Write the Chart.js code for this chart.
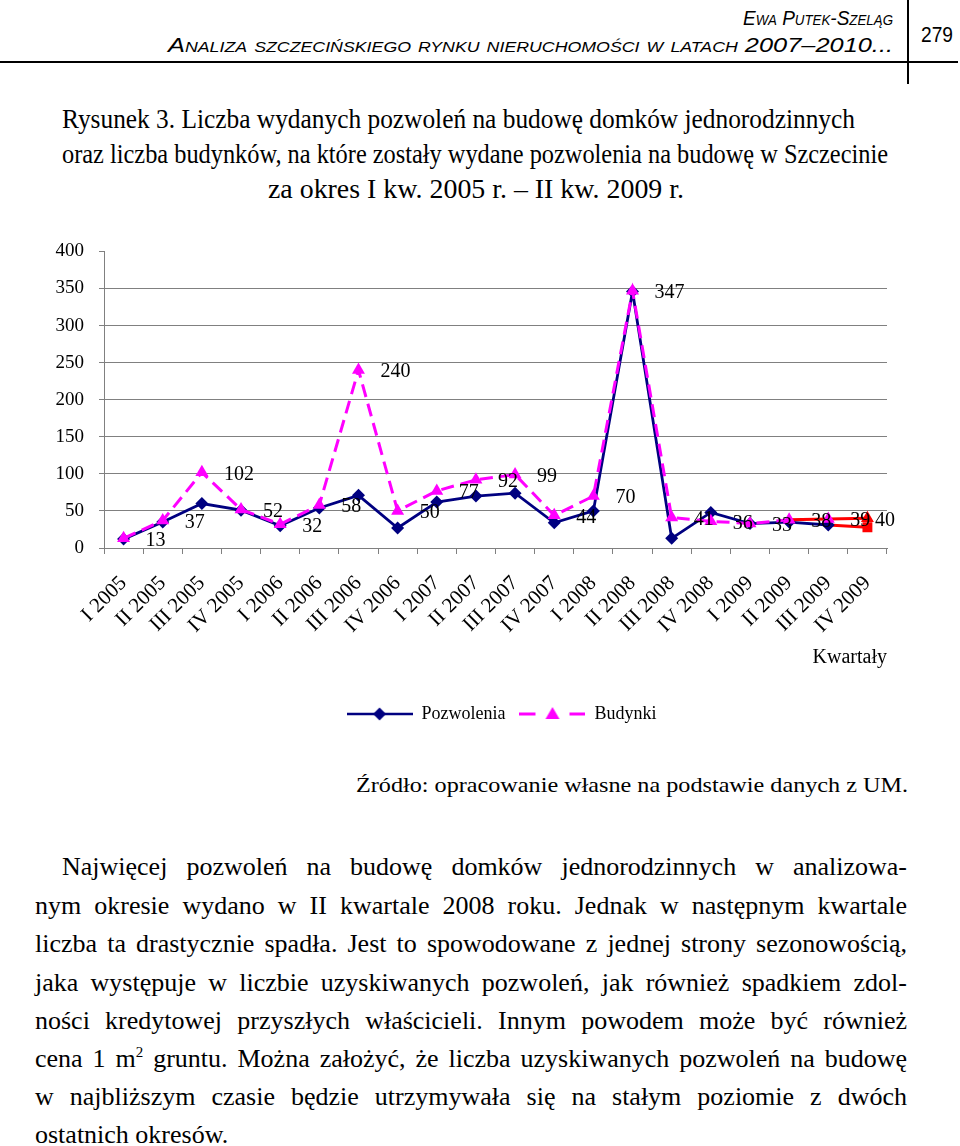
<!DOCTYPE html>
<html><head><meta charset="utf-8">
<script src="https://cdn.jsdelivr.net/npm/chart.js@4.4.0/dist/chart.umd.min.js"></script>
<style>
html,body{margin:0;padding:0;background:#fff;}
body{width:960px;height:1146px;position:relative;overflow:hidden;font-family:"Liberation Serif","Times New Roman",serif;color:#000;}
.t{position:absolute;white-space:nowrap;line-height:1;display:inline-block;}
.hdr{font-family:"Liberation Sans Narrow","Liberation Sans",Arial,sans-serif;font-style:italic;font-variant:small-caps;}
.rule{position:absolute;background:#000;}
#wrap{position:absolute;left:0;top:225px;width:960px;height:505px;}
sup{font-size:15px;vertical-align:10px;line-height:0;}
</style></head><body>
<div class="rule" style="left:907px;top:0;width:1.5px;height:84px"></div>
<div class="rule" style="left:0;top:61px;width:958px;height:2px"></div>
<div id="h1" class="t hdr" style="font-size:20px">Ewa Putek-Szeląg</div>
<div id="h2" class="t hdr" style="font-size:20px">Analiza szczecińskiego rynku nieruchomości w latach 2007–2010...</div>
<div id="pg" class="t" style="font-family:'Liberation Sans Narrow','Liberation Sans',Arial,sans-serif;font-size:22px">279</div>

<div id="c1" class="t" style="font-size:28px">Rysunek 3. Liczba wydanych pozwoleń na budowę domków jednorodzinnych</div>
<div id="c2" class="t" style="font-size:28px">oraz liczba budynków, na które zostały wydane pozwolenia na budowę w Szczecinie</div>
<div id="c3" class="t" style="font-size:28px">za okres I kw. 2005 r. – II kw. 2009 r.</div>

<div id="wrap"><canvas id="chart" width="960" height="505"></canvas></div>

<div id="src" class="t" style="font-size:21px">Źródło: opracowanie własne na podstawie danych z UM.</div>

<div id="p1" class="t" style="font-size:26px">Najwięcej pozwoleń na budowę domków jednorodzinnych w analizowa-</div>
<div id="p2" class="t" style="font-size:26px">nym okresie wydano w II kwartale 2008 roku. Jednak w następnym kwartale</div>
<div id="p3" class="t" style="font-size:26px">liczba ta drastycznie spadła. Jest to spowodowane z jednej strony sezonowością,</div>
<div id="p4" class="t" style="font-size:26px">jaka występuje w liczbie uzyskiwanych pozwoleń, jak również spadkiem zdol-</div>
<div id="p5" class="t" style="font-size:26px">ności kredytowej przyszłych właścicieli. Innym powodem może być również</div>
<div id="p6" class="t" style="font-size:26px">cena 1 m<sup>2</sup> gruntu. Można założyć, że liczba uzyskiwanych pozwoleń na budowę</div>
<div id="p7" class="t" style="font-size:26px">w najbliższym czasie będzie utrzymywała się na stałym poziomie z dwóch</div>
<div id="p8" class="t" style="font-size:26px">ostatnich okresów.</div>

<script>
// ---- data ----
const kwartaly = ['I 2005','II 2005','III 2005','IV 2005','I 2006','II 2006','III 2006','IV 2006',
  'I 2007','II 2007','III 2007','IV 2007','I 2008','II 2008','III 2008','IV 2008',
  'I 2009','II 2009','III 2009','IV 2009'];
const pozwolenia = [12,35,60,51,30,54,71,27,62,70,74,34,50,346,13,48,33,35,31,28];
const budynki = [13,37,102,52,32,58,240,50,77,92,99,44,70,347,41,36,33,38,39,40];
const osY = [0,50,100,150,200,250,300,350,400];
const seriaNazwy = ['Pozwolenia','Budynki'];
const osXTytul = 'Kwartały';

// ---- page text layout ----
function place(id, x0, x1, cy, mode){
  const el = document.getElementById(id);
  const fs = parseFloat(getComputedStyle(el).fontSize);
  el.style.left = x0 + 'px';
  el.style.top = (cy - fs*0.52) + 'px';
  const w = el.getBoundingClientRect().width;
  el.style.transformOrigin = 'left center';
  if (mode === 'justify') {
    const n = (el.textContent.match(/ /g) || []).length;
    const extra = x1 - x0 - w;
    if (extra >= 0) { if (n) el.style.wordSpacing = (extra / n) + 'px'; }
    else el.style.transform = 'scaleX(' + ((x1 - x0) / w) + ')';
  } else if (mode === 'scale') {
    el.style.transform = 'scaleX(' + ((x1 - x0) / w) + ')';
  }
}
place('h1', 743, 893, 18, 'scale');
place('h2', 168, 893, 45, 'scale');
place('pg', 921, 953, 35, 'scale');
place('c1', 62, 855, 120, 'scale');
place('c2', 62, 888, 155, 'scale');
place('c3', 268, 684, 190, 'scale');
place('src', 356, 908, 786, 'scale');
place('p1', 62, 907, 868, 'justify');
place('p2', 35, 907, 907, 'justify');
place('p3', 35, 907, 945, 'justify');
place('p4', 35, 907, 984, 'justify');
place('p5', 35, 907, 1022, 'justify');
place('p6', 35, 907, 1060, 'justify');
place('p7', 35, 907, 1098, 'justify');
place('p8', 35, 300, 1136, 'none');

// ---- chart ----
const NAVY = '#000080', MAG = '#FF00FF', RED = '#FF0000', GRID = '#808080';
const last = kwartaly.length - 1;
const FONT = "'Liberation Serif','Times New Roman',serif";

function legendImg(kind){
  const c = document.createElement('canvas');
  c.width = 66; c.height = 18;
  const g = c.getContext('2d');
  const cy = 9;
  if (kind === 0) {
    g.strokeStyle = NAVY; g.lineWidth = 2.5;
    g.beginPath(); g.moveTo(0,cy); g.lineTo(66,cy); g.stroke();
    g.fillStyle = NAVY;
    g.beginPath(); g.moveTo(33,cy-6.5); g.lineTo(39.5,cy); g.lineTo(33,cy+6.5); g.lineTo(26.5,cy); g.closePath(); g.fill();
  } else {
    g.strokeStyle = MAG; g.lineWidth = 3;
    g.beginPath(); g.moveTo(0,cy); g.lineTo(16,cy); g.moveTo(50,cy); g.lineTo(66,cy); g.stroke();
    g.fillStyle = MAG;
    g.beginPath(); g.moveTo(33,cy-7); g.lineTo(40,cy+5); g.lineTo(26,cy+5); g.closePath(); g.fill();
  }
  return c;
}
const legendImgs = [legendImg(0), legendImg(1)];

const valueLabels = {
  id: 'valueLabels',
  afterDatasetsDraw(chart){
    const meta = chart.getDatasetMeta(1);
    const ctx = chart.ctx;
    ctx.save();
    ctx.font = "20px " + FONT;
    ctx.fillStyle = '#000';
    ctx.textAlign = 'left';
    ctx.textBaseline = 'middle';
    meta.data.forEach((pt, i) => {
      const x = Math.min(pt.x + 22, chart.chartArea.right - 12);
      ctx.fillText(String(budynki[i]), x, pt.y + 2);
    });
    ctx.restore();
  }
};

const shiftLegend = {
  id: 'shiftLegend',
  afterLayout(chart){
    const L = chart.legend;
    L.left += 58; L.right += 58;
    const h = L.bottom - L.top;
    L.top = 466; L.bottom = L.top + h;
  }
};

new Chart(document.getElementById('chart'), {
  type: 'line',
  data: {
    labels: kwartaly,
    datasets: [
      {
        label: seriaNazwy[0], data: pozwolenia, order: 2,
        borderColor: NAVY, borderWidth: 2.8, tension: 0,
        pointStyle: kwartaly.map((_, i) => i === last ? 'rect' : 'rectRot'),
        pointRadius: kwartaly.map((_, i) => i === last ? 7 : 6.5),
        pointBackgroundColor: kwartaly.map((_, i) => i === last ? RED : NAVY),
        pointBorderColor: kwartaly.map((_, i) => i === last ? RED : NAVY),
        pointBorderWidth: 0,
        segment: { borderColor: c => c.p0DataIndex >= last - 1 ? RED : NAVY }
      },
      {
        label: seriaNazwy[1], data: budynki, order: 1,
        borderColor: MAG, borderWidth: 3, borderDash: [13, 7], tension: 0,
        pointStyle: 'triangle', pointRadius: 7.5,
        pointBackgroundColor: kwartaly.map((_, i) => i === last ? RED : MAG),
        pointBorderColor: kwartaly.map((_, i) => i === last ? RED : MAG),
        pointBorderWidth: 0,
        segment: {
          borderColor: c => c.p0DataIndex >= last - 2 ? RED : MAG,
          borderDash: c => c.p0DataIndex >= last - 2 ? [] : [13, 7]
        }
      }
    ]
  },
  options: {
    responsive: false, animation: false, events: [],
    layout: { padding: { left: 0, right: 73, top: 11, bottom: 18 } },
    plugins: {
      tooltip: { enabled: false },
      legend: {
        position: 'bottom',
        labels: {
          usePointStyle: true, pointStyleWidth: 66, boxHeight: 16,
          color: '#000', font: { family: FONT, size: 18 }, padding: 14,
          sort: (a, b) => a.datasetIndex - b.datasetIndex,
          generateLabels: (chart) => chart.data.datasets.map((ds, i) => ({
            text: ds.label, datasetIndex: i, pointStyle: legendImgs[i],
            fillStyle: 'transparent', strokeStyle: 'transparent', lineWidth: 0, hidden: false
          }))
        }
      }
    },
    scales: {
      x: {
        offset: true,
        grid: { offset: true, drawOnChartArea: false, color: GRID, tickLength: 6, lineWidth: 1 },
        border: { color: GRID, width: 1 },
        ticks: { autoSkip: false, minRotation: 45, maxRotation: 45, color: '#000',
          font: { family: FONT, size: 21 }, padding: 17 },
        title: { display: true, text: osXTytul, align: 'end', color: '#000',
          font: { family: FONT, size: 20 }, padding: { top: 14, bottom: 0 } },
        afterFit: s => { s.height = 122; }
      },
      y: {
        min: 0, max: 400,
        afterBuildTicks: s => { s.ticks = osY.map(v => ({ value: v })); },
        grid: { color: c => (c.tick && c.tick.value === 400) ? 'rgba(0,0,0,0)' : GRID,
          tickColor: GRID, tickLength: 5, lineWidth: 1 },
        border: { color: GRID, width: 1 },
        ticks: { color: '#000', font: { family: FONT, size: 19 }, padding: 15 },
        afterFit: s => { s.width = 104; }
      }
    }
  },
  plugins: [valueLabels, shiftLegend]
});
</script>
</body></html>
